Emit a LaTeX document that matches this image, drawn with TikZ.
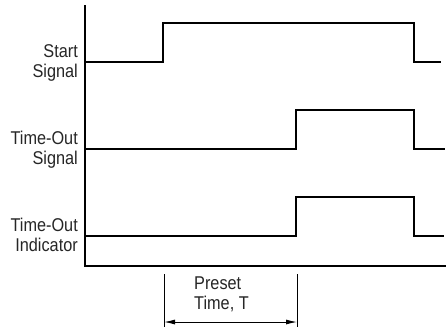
\documentclass[tikz,border=0pt]{standalone}
\usepackage{fontspec}
\setmainfont{Liberation Sans}[FakeStretch=0.88]
\usetikzlibrary{arrows.meta}

\tikzset{
    wave/.style={line width=1.2pt, line join=miter},
    axis/.style={line width=2.6pt},
    sig/.style={anchor=base east, align=right, inner sep=0pt, text=black!85,
        font=\fontsize{18.5}{20}\selectfont},
    dim/.style={line width=1pt},
}

\begin{document}
\begin{tikzpicture}[x=1pt, y=-1pt]
        \useasboundingbox (0, 0) rectangle (446, 330);
        % axes
        \draw [axis] (85, 5) |- (446, 266);
        % start signal
        \draw [wave] (86, 62) -| (163, 23) -| (414, 62) -- (441, 62);
        \node [sig] (start) at (78, 77) {Start\\Signal};
        % time-out signal
        \draw [wave] (86, 149) -| (296, 110) -| (414, 149) -- (445, 149);
        \node [sig] (tosig) at (78, 164) {Time-Out\\Signal};
        % time-out indicator
        \draw [wave] (86, 236) -| (296, 197) -| (414, 236) -- (444, 236);
        \node [sig] (toind) at (78, 251) {Time-Out\\Indicator};
        % preset time
        \coordinate (p0) at (164, 274);
        \coordinate (p1) at (297, 274);
        \coordinate (q0) at (164, 327);
        \coordinate (q1) at (297, 327);
        \coordinate (a0) at (164, 322);
        \coordinate (a1) at (297, 322);
        \draw [dim] (p0) -- (q0);
        \draw [dim] (p1) -- (q1);
        \draw [dim, {Latex[length=11pt, width=5pt]}-{Latex[length=11pt, width=5pt]}] (a0) -- (a1);
        \node [sig, anchor=base west, align=left] (preset) at (194, 309) {Preset\\Time, T};
    \end{tikzpicture}
\end{document}
